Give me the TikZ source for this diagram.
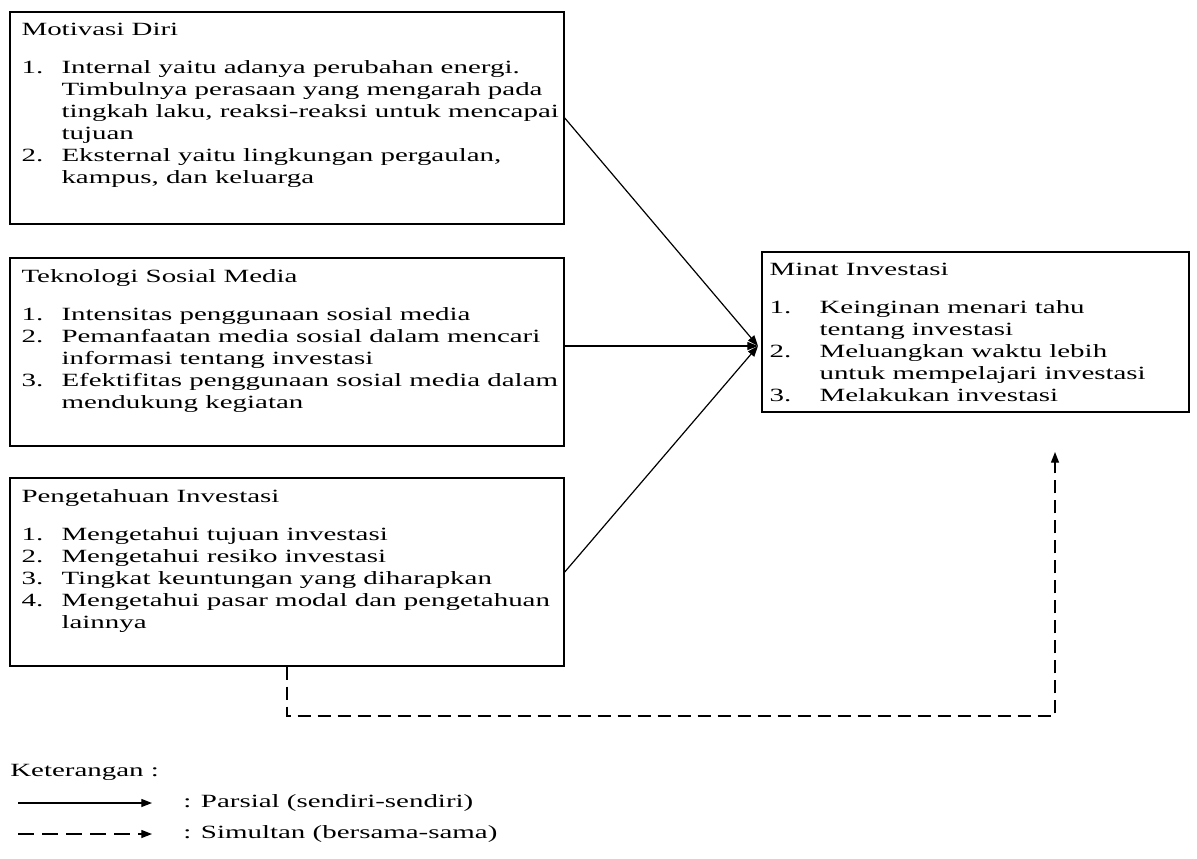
\documentclass[tikz,border=0pt]{standalone}
\usepackage{fontspec}
\setmainfont[FakeStretch=1.55]{Liberation Serif}
\usepackage{tikz}
\usetikzlibrary{positioning}
\usetikzlibrary{arrows.meta}
\newcommand{\itm}[3][30pt]{\makebox[#1][l]{#2}#3}
\newcommand{\cnt}{\makebox[30pt][l]{}}
\newcommand{\cntw}{\makebox[37.5pt][l]{}}

\begin{document}
\begin{tikzpicture}[x=0.75pt,y=-0.75pt,
    box/.style={draw, line width=1.1pt, minimum width=415.5pt, inner sep=0pt},
    txt/.style={anchor=north west, align=left, inner sep=0pt, xshift=9pt, yshift=-9pt},
    arr/.style={line width=0.9pt, -{Triangle[length=8pt,width=6pt]}},
    every node/.append style={font=\fontsize{14}{16.5}\selectfont}]
    \useasboundingbox (0,0) rectangle (1197,858);
    \begin{scope}[every node/.append style={box}]
        \node[minimum height=159pt] (motivasi) at (287,118) {};
        \node[minimum height=141pt] (teknologi) at (287,352) {};
        \node[minimum height=141pt] (pengetahuan) at (287,572) {};
        \node[minimum width=320.25pt, minimum height=120pt] (minat) at (975.5,332) {};
    \end{scope}
    %Texts
    \node[txt] (motivasitxt) at (motivasi.north west) {Motivasi Diri\\[12pt]
        \itm{1.}{Internal yaitu adanya perubahan energi.}\\
        \cnt Timbulnya perasaan yang mengarah pada\\
        \cnt tingkah laku, reaksi-reaksi untuk mencapai\\
        \cnt tujuan\\
        \itm{2.}{Eksternal yaitu lingkungan pergaulan,}\\
        \cnt kampus, dan keluarga};
    \node[txt] (teknologitxt) at (teknologi.north west) {Teknologi Sosial Media\\[12pt]
        \itm{1.}{Intensitas penggunaan sosial media}\\
        \itm{2.}{Pemanfaatan media sosial dalam mencari}\\
        \cnt informasi tentang investasi\\
        \itm{3.}{Efektifitas penggunaan sosial media dalam}\\
        \cnt mendukung kegiatan};
    \node[txt] (pengetahuantxt) at (pengetahuan.north west) {Pengetahuan Investasi\\[12pt]
        \itm{1.}{Mengetahui tujuan investasi}\\
        \itm{2.}{Mengetahui resiko investasi}\\
        \itm{3.}{Tingkat keuntungan yang diharapkan}\\
        \itm{4.}{Mengetahui pasar modal dan pengetahuan}\\
        \cnt lainnya};
    \node[txt, xshift=-3pt] (minattxt) at (minat.north west) {Minat Investasi\\[12pt]
        \itm[37.5pt]{1.}{Keinginan menari tahu}\\
        \cntw tentang investasi\\
        \itm[37.5pt]{2.}{Meluangkan waktu lebih}\\
        \cntw untuk mempelajari investasi\\
        \itm[37.5pt]{3.}{Melakukan investasi}};
    %Lines
    \coordinate (hub) at (758,346);
    \draw[arr] (motivasi.east) -- (hub);
    \draw[arr] (teknologi.east |- hub) -- (hub);
    \draw[arr] (pengetahuan.east) -- (hub);
    \coordinate (turn) at (1055,716);
    \coordinate (tip) at (1055,452);
    \draw[arr, dash pattern=on 10pt off 5pt] (pengetahuan.south) |- (turn) -- (tip);
    %Legend
    \node[anchor=west, inner sep=0pt] (ket) at (10,772) {Keterangan :};
    \node[anchor=west, inner sep=0pt] (parsial) at (183,803) {: Parsial (sendiri-sendiri)};
    \node[anchor=west, inner sep=0pt] (simultan) at (183,834) {: Simultan (bersama-sama)};
    \coordinate (p1) at (18,803);
    \coordinate (p2) at (152,803);
    \coordinate (s1) at (18,834);
    \coordinate (s2) at (152,834);
    \draw[arr] (p1) -- (p2);
    \draw[arr, dash pattern=on 12pt off 6pt] (s1) -- (s2);
\end{tikzpicture}
\end{document}
